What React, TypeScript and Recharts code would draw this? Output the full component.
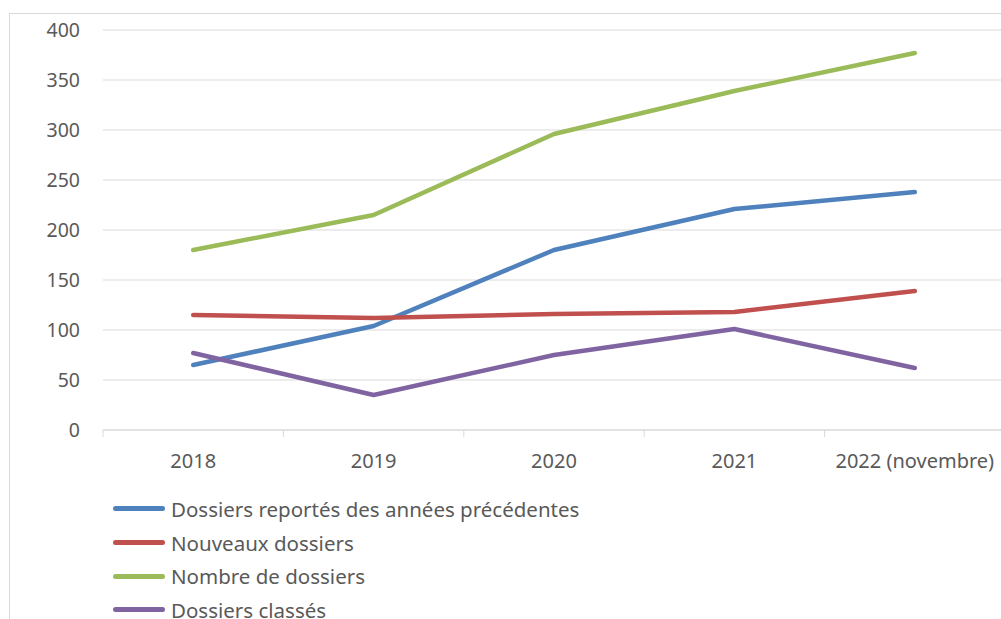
import { LineChart, Line, XAxis, YAxis, CartesianGrid, Legend } from 'recharts';

const YEARS = ['2018', '2019', '2020', '2021', '2022 (novembre)'];
const REPORTES = [65, 104, 180, 221, 238];
const NOUVEAUX = [115, 112, 116, 118, 139];
const NOMBRE = [180, 215, 296, 339, 377];
const CLASSES = [77, 35, 75, 101, 62];
const Y_TICKS = [0, 50, 100, 150, 200, 250, 300, 350, 400];

const SERIES = [
  { key: 'reportes', name: 'Dossiers reportés des années précédentes', color: '#4F81BD' },
  { key: 'nouveaux', name: 'Nouveaux dossiers', color: '#C0504D' },
  { key: 'nombre', name: 'Nombre de dossiers', color: '#9BBB59' },
  { key: 'classes', name: 'Dossiers classés', color: '#8064A2' },
];

// x en position de catégorie (centre de chaque case), comme Excel
const data = YEARS.map((y, i) => ({
  x: i + 0.5,
  year: y,
  reportes: REPORTES[i],
  nouveaux: NOUVEAUX[i],
  nombre: NOMBRE[i],
  classes: CLASSES[i],
}));

const FONT = '"Noto Sans", sans-serif';
const TEXT = '#595959';
const GRID = '#d9d9d9';
const CAT_W = (1005 - 103) / 5;

function CatTick(props: any) {
  const { x, y, payload } = props;
  const i = payload.value as number;
  return (
    <g>
      <line x1={x} x2={x} y1={y} y2={y + 7} stroke={GRID} strokeWidth={1} />
      {i < YEARS.length && (
        <text
          x={x + CAT_W / 2}
          y={y + 38}
          textAnchor="middle"
          fill={TEXT}
          fontSize={20}
          fontFamily={FONT}
        >
          {YEARS[i]}
        </text>
      )}
    </g>
  );
}

function LegendBox() {
  return (
    <div style={{ paddingLeft: 113, fontFamily: FONT, fontSize: 20.5, color: TEXT }}>
      {SERIES.map((s) => (
        <div key={s.key} style={{ display: 'flex', alignItems: 'center', height: 33.7, whiteSpace: 'nowrap' }}>
          <span
            style={{
              display: 'inline-block',
              width: 52,
              height: 5,
              borderRadius: 3,
              background: s.color,
              marginRight: 6,
            }}
          />
          <span>{s.name}</span>
        </div>
      ))}
    </div>
  );
}

export default function App() {
  return (
    <div
      style={{
        position: 'fixed',
        left: 0,
        top: 0,
        width: 1001,
        height: 619,
        overflow: 'hidden',
        background: '#fff',
      }}
    >
      <div
        style={{
          position: 'absolute',
          left: 9,
          top: 13,
          width: 1100,
          height: 700,
          border: `1px solid ${GRID}`,
        }}
      />
      <div style={{ position: 'absolute', left: 0, top: 0 }}>
        <LineChart width={1010} height={640} data={data} margin={{ top: 30, right: 5, bottom: 12, left: 0 }}>
          <CartesianGrid vertical={false} stroke={GRID} />
          <XAxis
            dataKey="x"
            type="number"
            domain={[0, 5]}
            ticks={[0, 1, 2, 3, 4, 5]}
            tick={<CatTick />}
            tickLine={false}
            tickSize={0}
            tickMargin={0}
            axisLine={{ stroke: GRID }}
            height={62}
            interval={0}
          />
          <YAxis
            domain={[0, 400]}
            ticks={Y_TICKS}
            width={103}
            axisLine={false}
            tickLine={false}
            tickSize={0}
            tickMargin={23}
            tick={{ fill: TEXT, fontSize: 19.5, fontFamily: FONT }}
          />
          <Legend verticalAlign="bottom" align="left" height={136} content={<LegendBox />} />
          {SERIES.map((s) => (
            <Line
              key={s.key}
              dataKey={s.key}
              name={s.name}
              stroke={s.color}
              strokeWidth={4.5}
              strokeLinecap="round"
              strokeLinejoin="round"
              dot={false}
              activeDot={false}
              isAnimationActive={false}
            />
          ))}
        </LineChart>
      </div>
    </div>
  );
}
